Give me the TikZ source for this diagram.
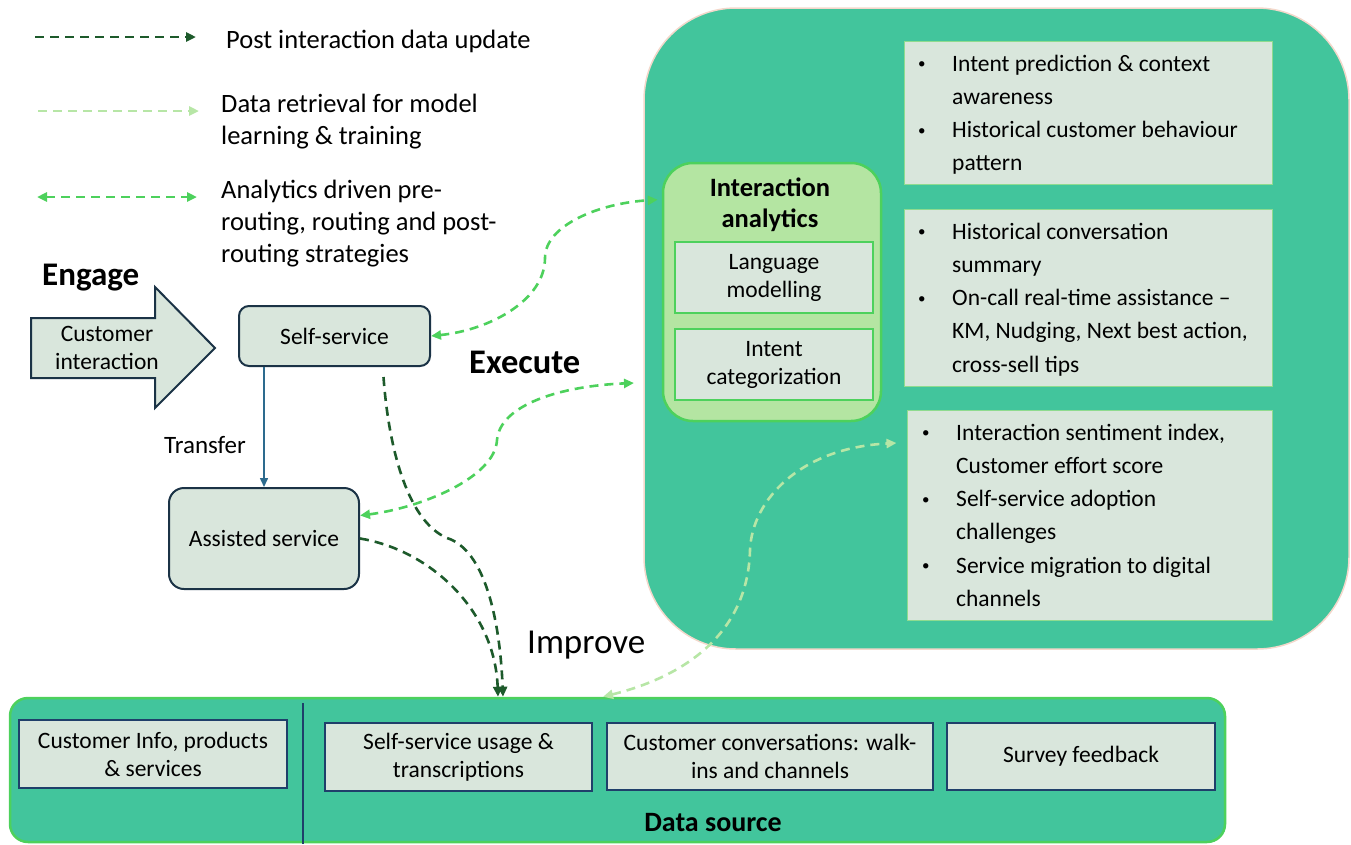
\documentclass[tikz,border=0pt]{standalone}
\usepackage{fontspec}
\setmainfont{Carlito}
\usetikzlibrary{arrows.meta}
\definecolor{cBig}{HTML}{42C59C}
\definecolor{cPale}{HTML}{D9E6DC}
\definecolor{cIA}{HTML}{B4E5A2}
\definecolor{cMid}{HTML}{4DD15C}
\definecolor{cLight}{HTML}{B7E6A6}
\definecolor{cDark}{HTML}{1D5A2B}
\definecolor{cNavy}{HTML}{1B3346}
\definecolor{cNavyB}{HTML}{1F3F6A}
\definecolor{cBlue}{HTML}{2D6B8E}
\definecolor{cPeach}{HTML}{F3D8CB}
\definecolor{cPanelLine}{HTML}{8FDB8F}
\newcommand\fsz[2]{\fontsize{#1}{#2}\selectfont}
\newcommand\mylines[2][l]{\begin{tabular}[t]{@{}#1@{}}#2\end{tabular}}
\newcommand\mybitem[1]{\par\noindent\hangindent=34pt\hangafter=1\makebox[34pt][l]{\raisebox{2.5pt}{\fsz{15}{15}\textbullet}}#1}
\tikzset{
  darkc/.style={draw=cDark, line width=2.6pt, dash pattern=on 9pt off 6pt, >={Triangle[length=10pt,width=9pt]}},
  midc/.style={draw=cMid, line width=2.6pt, dash pattern=on 9pt off 6pt, >={Triangle[length=10pt,width=9pt]}},
  lightc/.style={draw=cLight, line width=2.6pt, dash pattern=on 9pt off 6pt, >={Triangle[length=10pt,width=9pt]}},
  legend/.style={anchor=base west, inner sep=0pt, font=\fsz{26.5}{32}},
  body/.style={font=\fsz{23.5}{28}, align=center, inner sep=0pt},
  lbox/.style={body, draw=cNavy, line width=2pt, fill=cPale},
  iabox/.style={body, draw=cMid, line width=2.5pt, fill=cPale},
  panel/.style={draw=cPanelLine, line width=1pt, fill=cPale, inner sep=0pt},
  dbox/.style={body, draw=cNavyB, line width=2.5pt, fill=cPale},
  ptext/.style={anchor=base west, inner sep=0pt},
}
\begin{document}
\begin{tikzpicture}[x=1pt,y=-1pt]
\useasboundingbox (0,0) rectangle (1351,844);
% big analytics area
\node[draw=cPeach, line width=1.5pt, fill=cBig, rounded corners=92pt, minimum width=705, minimum height=641, inner sep=0pt] (big) at (996.5,328.5) {};
% data source area
\node[draw=cMid, line width=2.5pt, fill=cBig, rounded corners=18pt, minimum width=1215, minimum height=144, inner sep=0pt] (ds) at (617.5,770) {};
\draw[cNavyB, line width=1.5pt] (303,703) -- (303,844);

% legend
\coordinate (l1s) at (35,37); \coordinate (l1e) at (196,37);
\coordinate (l2s) at (38,111); \coordinate (l2e) at (199,111);
\coordinate (l3s) at (37,197); \coordinate (l3e) at (197,197);
\draw[darkc,->] (l1s) -- (l1e);
\draw[lightc,->] (l2s) -- (l2e);
\draw[midc,<->] (l3s) -- (l3e);
\node[legend] (lt1) at (226,48) {Post interaction data update};
\node[legend] (lt2) at (221,112) {\mylines{Data retrieval for model\\learning \& training}};
\node[legend] (lt3) at (221,198) {\mylines{Analytics driven pre-\\routing, routing and post-\\routing strategies}};

% stage labels
\node[anchor=base west, inner sep=0pt, font=\fsz{33}{38}\bfseries] (engage) at (42,285) {Engage};
\node[anchor=base west, inner sep=0pt, font=\fsz{34.5}{40}\bfseries] (execute) at (469,373) {Execute};
\node[anchor=base west, inner sep=0pt, font=\fsz{35}{40}] (improve) at (527,653) {Improve};

% customer interaction arrow
\draw[draw=cNavy, line width=2pt, fill=cPale] (31,318) -- (155,318) -- (155,287) -- (215,348) -- (155,408) -- (155,378) -- (31,378) -- cycle;
\node[body] (ci) at (107,348) {Customer\\interaction};

% service boxes
\node[lbox, rounded corners=10pt, minimum width=191, minimum height=60] (ss) at (334.5,336) {Self-service};
\node[lbox, rounded corners=15pt, minimum width=190, minimum height=101] (as) at (264,538.5) {Assisted service};
\draw[cBlue, line width=1.5pt, -{Triangle[length=9pt,width=8pt]}] ([xshift=-70.5pt]ss.south) -- (as.north);
\node[anchor=base west, inner sep=0pt, font=\fsz{25}{30}] (transfer) at (164,453) {Transfer};

% interaction analytics
\node[draw=cMid, line width=2.5pt, fill=cIA, rounded corners=30pt, minimum width=218, minimum height=258, inner sep=0pt] (ia) at (772,292) {};
\node[anchor=base, inner sep=0pt, font=\fsz{26.5}{31}\bfseries] (iat) at (770,196) {\mylines[c]{Interaction\\analytics}};
\node[iabox, minimum width=198, minimum height=71] (lm) at (774,277.5) {Language\\modelling};
\node[iabox, minimum width=198, minimum height=71] (ic) at (774,364.5) {Intent\\categorization};

% right panels
\node[panel, minimum width=368, minimum height=143] (p1) at (1088,112.5) {};
\node[panel, minimum width=368, minimum height=177] (p2) at (1088,297.5) {};
\node[panel, minimum width=365, minimum height=210] (p3) at (1089.5,515) {};
\node[ptext] (t1) at (918,71) {\begin{minipage}[t]{380pt}\fsz{23.5}{33.3}\raggedright
\mybitem{Intent prediction \& context\newline awareness}
\mybitem{Historical customer behaviour\newline pattern}\end{minipage}};
\node[ptext] (t2) at (918,239) {\begin{minipage}[t]{380pt}\fsz{23.5}{33.3}\raggedright
\mybitem{Historical conversation\newline summary}
\mybitem{On-call real-time assistance --\newline KM, Nudging, Next best action,\newline cross-sell tips}\end{minipage}};
\node[ptext] (t3) at (922,440) {\begin{minipage}[t]{380pt}\fsz{23.5}{33.3}\raggedright
\mybitem{Interaction sentiment index,\newline Customer effort score}
\mybitem{Self-service adoption\newline challenges}
\mybitem{Service migration to digital\newline channels}\end{minipage}};

% data source boxes
\node[dbox, minimum width=268, minimum height=68] (d1) at (153,754) {Customer Info, products\\\& services};
\node[dbox, minimum width=267, minimum height=68] (d2) at (458.5,757) {Self-service usage \&\\transcriptions};
\node[dbox, minimum width=326, minimum height=67] (d3) at (770,756.5) {Customer conversations: walk-\\ins and channels};
\node[dbox, minimum width=268, minimum height=67] (d4) at (1081,756.5) {Survey feedback};
\node[anchor=base, inner sep=0pt, font=\fsz{28}{33}\bfseries] (dst) at (713,831) {Data source};

% connectors
\coordinate (execIn) at (634,383);
\draw[midc,<->] (ss.east) .. controls (490,330) and (545,300) .. (545,258) .. controls (545,225) and (600,203) .. ([xshift=-4pt,yshift=-38pt]ia.north west);
\draw[midc,<->] ([yshift=23pt]as.east) .. controls (420,508) and (495,478) .. (497,440) .. controls (500,405) and (560,386) .. (execIn);
\draw[darkc,->] ([xshift=49pt,yshift=-10pt]ss.south) .. controls (388,440) and (405,520) .. (447,538) .. controls (485,550) and (500,620) .. ([xshift=-114.5pt]ds.north);
\draw[darkc,->] (as.east) .. controls (430,550) and (495,610) .. ([xshift=-119.5pt]ds.north);
\draw[lightc,<->] ([xshift=-14.5pt]ds.north) .. controls (690,675) and (748,630) .. (750,550) .. controls (752,500) and (800,448) .. ([xshift=-10pt,yshift=72pt]p3.west);
\end{tikzpicture}
\end{document}
